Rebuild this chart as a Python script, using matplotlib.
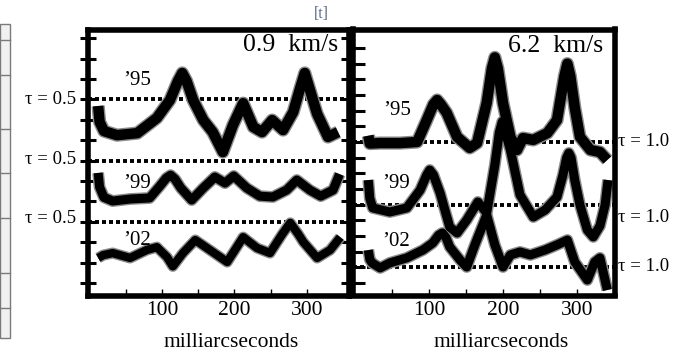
import matplotlib
matplotlib.use("Agg")
import matplotlib.pyplot as plt
import numpy as np
from matplotlib.patches import Rectangle
from matplotlib.lines import Line2D
import matplotlib.patheffects as pe

plt.rcParams['font.family'] = ['Liberation Serif', 'DejaVu Serif']

# ---------------- data (panel units: one y tick = 1 unit) ----------------
# Left panel: 0.9 km/s
L95_x = [12, 14, 20, 38, 66, 93, 111, 122, 128, 134, 143, 157, 170, 184, 198, 212, 226, 238, 252, 267, 281, 291, 297, 303, 314, 329, 343]
L95_y = [8.68, 7.90, 7.45, 7.25, 7.35, 8.09, 8.97, 9.90, 10.30, 9.90, 8.97, 7.99, 7.40, 6.42, 7.75, 8.82, 7.65, 7.40, 7.99, 7.50, 8.38, 9.60, 10.30, 9.60, 8.30, 7.16, 7.40]

L99_x = [12, 14, 20, 32, 56, 83, 97, 106, 112, 118, 126, 141, 157, 173, 187, 199, 217, 235, 253, 272, 286, 304, 319, 336, 345]
L99_y = [5.40, 4.70, 4.20, 4.02, 4.12, 4.17, 4.75, 5.15, 5.29, 5.10, 4.66, 4.07, 4.66, 5.20, 4.90, 5.25, 4.66, 4.26, 4.22, 4.56, 5.05, 4.56, 4.26, 4.56, 5.34]

L02_x = [12, 19, 32, 56, 79, 93, 107, 115, 129, 146, 166, 190, 212, 231, 249, 266, 277, 288, 295, 314, 332, 346]
L02_y = [1.23, 1.37, 1.47, 1.23, 1.62, 1.76, 1.27, 0.82, 1.47, 2.11, 1.62, 1.03, 2.25, 1.72, 1.47, 2.40, 2.95, 2.40, 2.01, 1.23, 1.62, 2.25]

# Right panel: 6.2 km/s
R95_x = [18, 20, 34, 61, 84, 97, 106, 111, 116, 124, 138, 155, 165, 178, 185, 189, 193, 200, 210, 219, 227, 241, 260, 273, 283, 287, 291, 297, 304, 318, 331, 341]
R95_y = [9.40, 8.90, 8.93, 8.93, 9.00, 10.40, 11.40, 11.68, 11.40, 10.85, 9.32, 8.62, 8.93, 11.49, 13.70, 14.40, 13.70, 11.49, 9.32, 8.49, 9.25, 9.13, 9.57, 10.40, 13.20, 14.00, 13.20, 11.20, 9.32, 8.49, 8.36, 7.85]

R99_x = [18, 20, 24, 47, 70, 88, 97, 101, 106, 115, 128, 138, 151, 166, 178, 189, 195, 199, 210, 223, 241, 257, 273, 281, 286, 289, 292, 297, 304, 314, 322, 331, 338, 342]
R99_y = [6.57, 5.40, 4.79, 4.53, 4.79, 5.93, 6.90, 7.21, 6.90, 5.74, 3.57, 3.19, 4.02, 5.17, 4.47, 7.53, 9.60, 10.30, 8.49, 5.62, 4.21, 4.66, 5.49, 6.89, 8.00, 8.30, 8.00, 6.57, 4.98, 3.38, 2.94, 3.64, 4.98, 6.57]

R02_x = [18, 20, 23, 34, 47, 70, 92, 105, 113, 118, 123, 128, 142, 151, 162, 178, 189, 200, 210, 223, 237, 257, 273, 287, 297, 314, 324, 331, 341]
R02_y = [2.10, 1.50, 1.28, 0.96, 1.28, 1.60, 2.11, 2.55, 3.05, 3.19, 2.90, 2.30, 1.47, 1.02, 2.43, 4.34, 2.43, 1.02, 1.79, 1.98, 1.79, 2.11, 2.43, 2.74, 1.34, 0.19, 1.34, 1.60, -0.45]

years = ["\u201995", "\u201999", "\u201902"]
speeds = ["0.9  km/s", "6.2  km/s"]
tau_left = ["\u03c4 = 0.5", "\u03c4 = 0.5", "\u03c4 = 0.5"]
tau_right = ["\u03c4 = 1.0", "\u03c4 = 1.0", "\u03c4 = 1.0"]
ref_left = [9, 6, 3]
ref_right = [9, 5, 1]
xticks_major = [100, 200, 300]
xticks_minor = [50, 150, 250]
xlabel = "milliarcseconds"

# ---------------- figure ----------------
fig = plt.figure(figsize=(6.74, 3.53), dpi=100)
W, H = 674, 353

# partial gray table at left edge of screenshot
fig.patches.append(Rectangle((0, 1 - 338 / H), 10 / W, (338 - 24) / H, transform=fig.transFigure,
                             facecolor='#f1f1f1', edgecolor='#7a7a7a', lw=1.0))
for yy in [40, 75, 129, 173, 218, 273, 308]:
    fig.lines.append(Line2D([0, 10 / W], [1 - yy / H, 1 - yy / H], transform=fig.transFigure,
                            color='#7a7a7a', lw=1.0))

axL = fig.add_axes([88 / W, 1 - 295.5 / H, 261 / W, 266 / H])
axR = fig.add_axes([353 / W, 1 - 295.5 / H, 261.5 / W, 266 / H])


def band(ax, x, y, lw):
    ax.plot(x, y, color='#8c8c8c', lw=lw + 2.0, solid_joinstyle='round',
            solid_capstyle='butt', zorder=2)
    ax.plot(x, y, color='black', lw=lw, solid_joinstyle='round',
            solid_capstyle='butt', zorder=3)


for ax in (axL, axR):
    for s in ax.spines.values():
        s.set_linewidth(4.0)
        s.set_zorder(6)
    ax.set_xticks(xticks_major)
    ax.set_xticks(xticks_minor, minor=True)
    ax.tick_params(axis='x', which='both', direction='in', length=5, width=1.0,
                   labelsize=15.5, pad=4, top=False)

# left panel
axL.set_xlim(-2, 358)
axL.set_ylim(-0.61, 12.43)
axL.set_yticks(range(0, 13))
axL.set_yticklabels([])
axL.tick_params(axis='y', which='both', direction='inout', length=12, width=2.2, left=True, right=True)
for yl in ref_left:
    axL.axhline(yl, color='black', lw=2.8, ls=(0, (1.03, 0.77)), zorder=1)
band(axL, L95_x, L95_y, 7.5)
band(axL, L99_x, L99_y, 6.5)
band(axL, L02_x, L02_y, 6.0)
for lab, (tx, ty) in zip(years, [(65.5, 9.95), (65.5, 4.90), (65.5, 2.11)]):
    axL.text(tx, ty, lab, fontsize=15, ha='center', va='center', zorder=5)
axL.text(0.958, 0.942, speeds[0], transform=axL.transAxes, fontsize=18.5, ha='right', va='center')
for lab, ty in zip(tau_left, [9.0, 6.05, 3.15]):
    axL.text(-0.046, ty, lab, transform=axL.get_yaxis_transform(), fontsize=13.5, ha='right', va='center')
axL.text(0.548, -0.177, xlabel, transform=axL.transAxes, fontsize=15.5, ha='center', va='center')

# right panel
axR.set_xlim(-2.7, 350.7)
axR.set_ylim(-0.80, 16.18)
axR.set_yticks(range(0, 16))
axR.set_yticklabels([])
axR.tick_params(axis='y', which='both', direction='in', length=8.3, width=2.2, left=True, right=False)
for yl in ref_right:
    axR.axhline(yl, color='black', lw=2.8, ls=(0, (1.03, 0.77)), zorder=1)
band(axR, R95_x, R95_y, 7.5)
band(axR, R99_x, R99_y, 6.5)
band(axR, R02_x, R02_y, 6.5)
for lab, (tx, ty) in zip(years, [(56.8, 11.04), (55.4, 6.38), (55.4, 2.62)]):
    axR.text(tx, ty, lab, fontsize=15, ha='center', va='center', zorder=5)
axR.text(0.956, 0.938, speeds[1], transform=axR.transAxes, fontsize=18.5, ha='right', va='center')
for lab, ty in zip(tau_right, [9.06, 4.15, 1.02]):
    axR.text(1.013, ty, lab, transform=axR.get_yaxis_transform(), fontsize=13.5, ha='left', va='center')
axR.text(0.566, -0.177, xlabel, transform=axR.transAxes, fontsize=15.5, ha='center', va='center')

fig.text(321 / W, 1 - 14 / H, "[t]", fontsize=11.5, color='#5b6a8c', ha='center', va='center')

fig.savefig("out.png", dpi=100)
